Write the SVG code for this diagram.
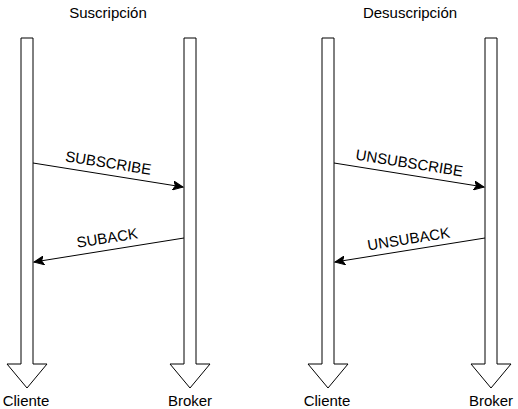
<svg xmlns="http://www.w3.org/2000/svg" width="518" height="409" viewBox="0 0 518 409">
<style>
.life{fill:#fff;stroke:#000;stroke-width:1}
.msg{fill:none;stroke:#000;stroke-width:1}
text{font-family:"Liberation Sans",Arial,sans-serif;font-size:15px;fill:#000;text-anchor:middle}
</style>
<defs>
<marker id="ah" markerWidth="12" markerHeight="10" refX="10" refY="5" orient="auto" markerUnits="userSpaceOnUse">
<path d="M0,0.5 L10,5 L0,9.5 L2.5,5 Z" fill="#000" stroke="#000" stroke-width="1"/>
</marker>
</defs>
<rect width="518" height="409" fill="#fff"/>
<text x="108" y="18">Suscripción</text>
<text x="410" y="18">Desuscripción</text>
<g id="cliente1">
<path class="life" d="M21,38 H33 V364 H47 L27,388 L7,364 H21 Z"/>
<text x="26" y="406">Cliente</text>
</g>
<g id="broker1">
<path class="life" d="M184,38 H196 V364 H210 L190,388 L170,364 H184 Z"/>
<text x="190" y="406">Broker</text>
</g>
<g id="cliente2">
<path class="life" d="M322,38 H334 V364 H348 L328,388 L308,364 H322 Z"/>
<text x="327" y="406">Cliente</text>
</g>
<g id="broker2">
<path class="life" d="M485,38 H497 V364 H511 L491,388 L471,364 H485 Z"/>
<text x="491" y="406">Broker</text>
</g>
<g id="connectors">
<line class="msg" x1="33" y1="163" x2="183" y2="187" marker-end="url(#ah)"/>
<line class="msg" x1="184" y1="238" x2="34" y2="262" marker-end="url(#ah)"/>
<line class="msg" x1="334" y1="163" x2="484" y2="187" marker-end="url(#ah)"/>
<line class="msg" x1="485" y1="238" x2="335" y2="262" marker-end="url(#ah)"/>
<text transform="translate(107.5,168) rotate(9)">SUBSCRIBE</text>
<text transform="translate(108,243) rotate(-9)">SUBACK</text>
<text transform="translate(408.5,168) rotate(9)">UNSUBSCRIBE</text>
<text transform="translate(409.5,244) rotate(-9)">UNSUBACK</text>
</g>
</svg>
